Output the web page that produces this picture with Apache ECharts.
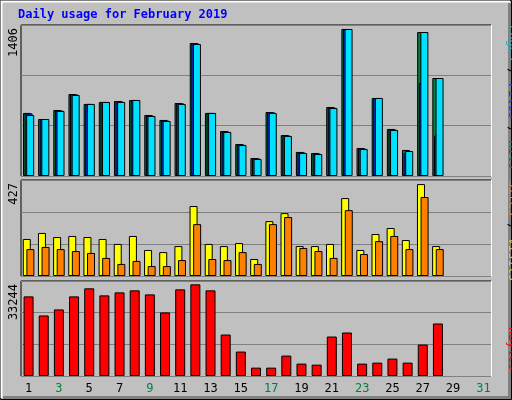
<!DOCTYPE html>
<html><head><meta charset="utf-8">
<script src="https://cdn.jsdelivr.net/npm/echarts@6/dist/echarts.min.js"></script>
<style>html,body{margin:0;padding:0;background:#c0c0c0}#c{width:512px;height:400px}</style>
</head><body><div id="c"></div>
<script>
const days = Array.from({length:31},(_, i)=>String(i+1));
const weekendDays = [2,3,9,10,16,17,23,24,30,31];
const hits  = [603,545,631,784,689,708,717,727,583,536,698,1272,603,430,306,172,612,392,230,220,660,1406,268,746,450,249,1377,937];
const files = [598,545,627,780,689,708,712,727,578,531,694,1267,603,425,301,168,608,387,225,215,655,1400,263,746,445,220,890,386];
const pages = [583,545,622,775,689,708,708,727,574,526,689,1262,603,421,296,163,603,383,220,210,650,1406,258,746,440,239,1377,937];
const visits = [172,200,181,186,181,172,149,186,121,111,139,325,149,139,153,79,255,292,139,139,149,362,121,195,223,167,427,139];
const sites  = [125,135,125,116,107,84,56,70,46,46,74,241,79,74,111,56,241,274,130,116,84,306,102,162,186,125,367,125];
const kbytes = [28873,21960,24143,28873,31790,29240,30330,31060,29600,23050,31420,33244,31060,15040,8860,3030,3030,7400,4490,4120,14310,15770,4490,4850,6310,4850,11400,19050];
const maxLabels = ['1406','427','33244'];

const F = 'DejaVu Sans Mono';
const chart = echarts.init(document.getElementById('c'));
const grids = [
  {left:21,right:21,top:25,height:151},
  {left:21,right:21,top:180,height:96},
  {left:21,right:21,top:281,height:95}
];
const ymax = [1444,446,34457];
const xAxes = grids.map((g,i)=>({
  type:'category', gridIndex:i, data:days, boundaryGap:true,
  axisLine:{show:false}, axisTick:{show:false},
  axisLabel:{show:i===2, margin:7, fontFamily:F, fontSize:12,
    color:(v)=>weekendDays.includes(+v)?'#008040':'#000'}
}));
const yAxes = grids.map((g,i)=>({
  type:'value', gridIndex:i, min:0, max:ymax[i], interval:ymax[i]/3,
  axisLabel:{show:false}, axisLine:{show:false}, axisTick:{show:false},
  splitLine:{lineStyle:{color:'#808080',width:1}}
}));
const bs = {borderColor:'#000',borderWidth:1};
const series = [
  {type:'bar',xAxisIndex:0,yAxisIndex:0,data:hits,barWidth:8,barGap:'-80%',itemStyle:Object.assign({color:'#008040'},bs)},
  {type:'bar',xAxisIndex:0,yAxisIndex:0,data:files,barWidth:8,barGap:'-80%',itemStyle:Object.assign({color:'#0040ff'},bs)},
  {type:'bar',xAxisIndex:0,yAxisIndex:0,data:pages,barWidth:8,barGap:'-80%',itemStyle:Object.assign({color:'#00e0ff'},bs)},
  {type:'bar',xAxisIndex:1,yAxisIndex:1,data:visits,barWidth:8,barGap:'-55%',itemStyle:Object.assign({color:'#ffff00'},bs)},
  {type:'bar',xAxisIndex:1,yAxisIndex:1,data:sites,barWidth:8,barGap:'-55%',itemStyle:Object.assign({color:'#ff8000'},bs)},
  {type:'bar',xAxisIndex:2,yAxisIndex:2,data:kbytes,barWidth:10,itemStyle:Object.assign({color:'#ff0000'},bs)}
];
series.forEach(s=>{s.animation=false; s.silent=true; s.barCategoryGap='30%';});
const gfx = [
  {type:'rect',shape:{x:0.5,y:0.5,width:511,height:399},style:{fill:'none',stroke:'#000',lineWidth:1},z:-1},
  {type:'polyline',shape:{points:[[1.5,398],[1.5,1.5],[510,1.5]]},style:{stroke:'#fff',fill:'none',lineWidth:2}},
  {type:'polyline',shape:{points:[[3,397.5],[509.5,397.5],[509.5,3]]},style:{stroke:'#808080',fill:'none',lineWidth:3}},
  {type:'text',left:18,top:9,style:{text:'Daily usage for February 2019',fill:'#0000ff',font:'bold 12px '+F}}
];
grids.forEach((g,i)=>{
  const y0=g.top, y1=g.top+g.height, x0=g.left, x1=512-g.right;
  gfx.push({type:'polyline',shape:{points:[[x0,y1],[x0,y0],[x1,y0]]},style:{stroke:'#000',fill:'none',lineWidth:1}});
  gfx.push({type:'polyline',shape:{points:[[x0,y1+0.5],[x1+0.5,y1+0.5],[x1+0.5,y0]]},style:{stroke:'#fff',fill:'none',lineWidth:1}});
  gfx.push({type:'text',x:8,y:y0+3,rotation:Math.PI/2,style:{text:maxLabels[i],fill:'#000',font:'12px '+F,align:'right',verticalAlign:'top'}});
});
function rtxt(y, parts){
  gfx.push({type:'text',x:506,y:y,rotation:-Math.PI/2,style:{
    text:parts.map((p,j)=>'{s'+j+'|'+p[0]+'}').join(''),
    rich:Object.fromEntries(parts.map((p,j)=>['s'+j,{fill:p[1],font:'12px '+F}])),
    align:'left',verticalAlign:'bottom'}});
}
rtxt(25,[['Pages','#00c0d0'],[' / ','#000'],['Files','#0040ff'],[' / ','#000'],['Hits','#008040']]);
rtxt(180,[['Sites','#ff8000'],[' / ','#000'],['Visits','#e0d000']]);
rtxt(327,[['KBytes','#ff0000']]);
chart.setOption({
  backgroundColor:'#c0c0c0', animation:false,
  grid:grids, xAxis:xAxes, yAxis:yAxes, series:series, graphic:gfx
});
</script></body></html>
